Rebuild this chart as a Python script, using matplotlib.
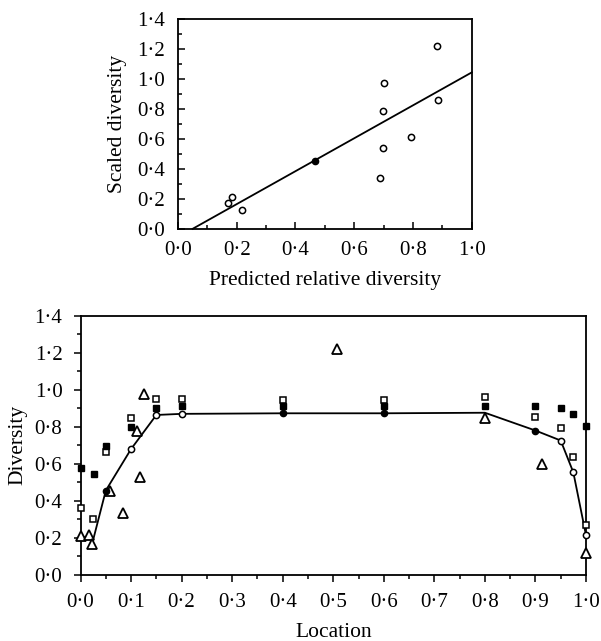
import matplotlib
matplotlib.use("Agg")
import matplotlib.pyplot as plt
from matplotlib.ticker import MultipleLocator, FuncFormatter

plt.rcParams['font.family'] = ['Liberation Serif', 'DejaVu Serif']

# ---- top panel: scaled vs predicted diversity ----
pred_open = [0.171, 0.185, 0.217, 0.688, 0.697, 0.697, 0.703, 0.794, 0.882, 0.886]
scaled_open = [0.17, 0.215, 0.125, 0.342, 0.539, 0.785, 0.975, 0.611, 1.221, 0.859]
pred_filled = [0.465]
scaled_filled = [0.454]
fit_x = [0.05, 1.0]
fit_y = [0.0, 1.045]

# ---- bottom panel: diversity vs location ----
curve_x = [0.0, 0.025, 0.05, 0.1, 0.15, 0.2, 0.4, 0.6, 0.8, 0.9, 0.95, 0.975, 1.0]
curve_y = [0.21, 0.19, 0.456, 0.68, 0.864, 0.87, 0.873, 0.873, 0.876, 0.78, 0.726, 0.554, 0.215]
circ_filled_x = [0.05, 0.4, 0.6, 0.9]
circ_filled_y = [0.456, 0.873, 0.873, 0.78]
circ_open_x = [0.1, 0.15, 0.2, 0.95, 0.975, 1.0]
circ_open_y = [0.68, 0.864, 0.87, 0.726, 0.554, 0.215]

sq_filled_x = [0.0, 0.026, 0.05, 0.1, 0.15, 0.2, 0.4, 0.6, 0.8, 0.9, 0.95, 0.975, 1.0]
sq_filled_y = [0.578, 0.547, 0.694, 0.798, 0.90, 0.915, 0.91, 0.91, 0.912, 0.912, 0.903, 0.869, 0.805]
sq_open_x = [0.0, 0.025, 0.05, 0.1, 0.15, 0.2, 0.4, 0.6, 0.8, 0.9, 0.95, 0.975, 1.0]
sq_open_y = [0.363, 0.30, 0.664, 0.85, 0.948, 0.948, 0.944, 0.944, 0.959, 0.851, 0.796, 0.637, 0.268]

tri_x = [0.0, 0.016, 0.023, 0.059, 0.085, 0.111, 0.118, 0.125, 0.508, 0.8, 0.913, 1.0]
tri_y = [0.21, 0.215, 0.166, 0.456, 0.333, 0.775, 0.53, 0.975, 1.218, 0.846, 0.601, 0.116]


def dotfmt(v, pos):
    return ('%.1f' % v).replace('.', '\u00b7')


def setup(ax, xmaj, xmin, direction, xpad, ypad):
    ax.set_xlim(0, 1.0)
    ax.set_ylim(0, 1.4)
    ax.xaxis.set_major_locator(MultipleLocator(xmaj))
    ax.xaxis.set_minor_locator(MultipleLocator(xmin))
    ax.yaxis.set_major_locator(MultipleLocator(0.2))
    ax.yaxis.set_minor_locator(MultipleLocator(0.1))
    ax.xaxis.set_major_formatter(FuncFormatter(dotfmt))
    ax.yaxis.set_major_formatter(FuncFormatter(dotfmt))
    ax.tick_params(which='both', direction=direction, labelsize=15, width=1.1)
    ax.tick_params(which='major', length=5)
    ax.tick_params(which='minor', length=3)
    ax.tick_params(axis='x', pad=xpad)
    ax.tick_params(axis='y', pad=ypad)
    for s in ax.spines.values():
        s.set_linewidth(1.3)


fig = plt.figure(figsize=(6.01, 6.41), dpi=100)

ax1 = fig.add_axes([0.296, 0.643, 0.489, 0.327])
ax1.plot(fit_x, fit_y, color='black', lw=1.3)
ax1.plot(pred_open, scaled_open, 'o', mfc='white', mec='black', ms=4.5, mew=1.1)
ax1.plot(pred_filled, scaled_filled, 'o', color='black', ms=4.5)
setup(ax1, 0.2, 0.1, 'in', 9, 9)
ax1.set_xlabel('Predicted relative diversity', fontsize=15.5, va='center')
ax1.set_ylabel('Scaled diversity', fontsize=15.5, va='center')
ax1.xaxis.set_label_coords(0.5, -0.245)
ax1.yaxis.set_label_coords(-0.204, 0.5)

ax2 = fig.add_axes([0.134, 0.103, 0.841, 0.4045])
ax2.plot(curve_x, curve_y, color='black', lw=1.3, zorder=2)
ax2.plot(sq_open_x, sq_open_y, 's', mfc='white', mec='black', ms=5, mew=1.1, zorder=3)
ax2.plot(sq_filled_x, sq_filled_y, 's', color='black', ms=5, zorder=3)
ax2.plot(tri_x, tri_y, '^', mfc='white', mec='black', ms=6.5, mew=1.3, zorder=4)
ax2.plot(circ_open_x, circ_open_y, 'o', mfc='white', mec='black', ms=4.5, mew=1.1, zorder=5)
ax2.plot(circ_filled_x, circ_filled_y, 'o', color='black', ms=4.5, zorder=5)
setup(ax2, 0.1, 0.05, 'out', 8, 8)
ax2.set_xlabel('Location', fontsize=15.5, va='center')
ax2.set_ylabel('Diversity', fontsize=15.5, va='center')
ax2.xaxis.set_label_coords(0.5, -0.22)
ax2.yaxis.set_label_coords(-0.124, 0.5)

for a in (ax1, ax2):
    for line in a.lines:
        line.set_clip_on(False)

fig.savefig('out.png', dpi=100)
